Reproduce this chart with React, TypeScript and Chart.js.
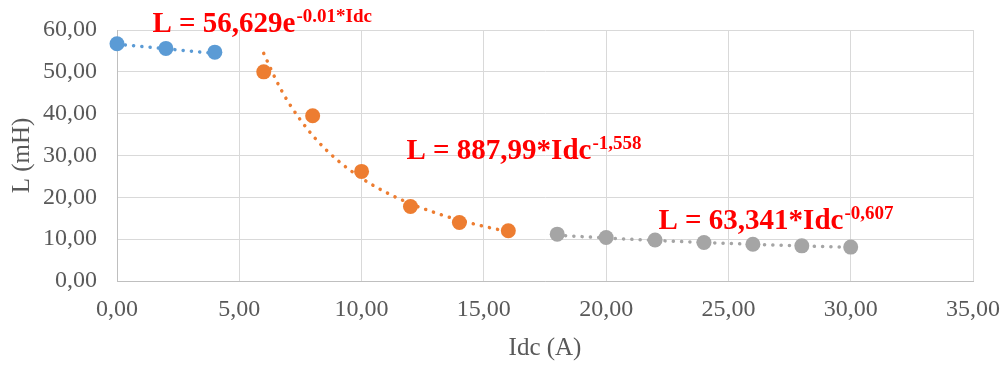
import React, { useEffect, useRef } from "react";
import { Chart, registerables } from "chart.js";

Chart.register(...registerables);

// Measured points (Idc in A, L in mH)
const blueX = [0, 2, 4];
const blueY = [56.7, 55.6, 54.7];
const orangeX = [6, 8, 10, 12, 14, 16];
const orangeY = [50.0, 39.5, 26.2, 17.8, 14.0, 12.0];
const grayX = [18, 20, 22, 24, 26, 28, 30];
const grayY = [11.2, 10.4, 9.8, 9.2, 8.8, 8.4, 8.1];

// Trend curves
const blueTrendX = [0, 1, 2, 3, 4];
const blueTrendY = [56.63, 56.07, 55.51, 54.96, 54.41];
const orangeTrendX = [6, 6.5, 7, 8, 9, 10, 11, 12, 13, 14, 15, 16];
const orangeTrendY = [54.4, 48.1, 42.8, 34.8, 28.95, 24.57, 21.18, 18.5, 16.33, 14.55, 13.06, 11.81];
const grayTrendX = [18, 20, 22, 24, 26, 28, 30];
const grayTrendY = [10.96, 10.28, 9.7, 9.2, 8.77, 8.38, 8.04];

// Axis ticks
const xTicks = [0, 5, 10, 15, 20, 25, 30, 35];
const yTicks = [0, 10, 20, 30, 40, 50, 60];

const xTitle = "Idc (A)";
const yTitle = "L (mH)";

const equations = [
  { main: "L = 56,629e", sup: "-0.01*Idc" },
  { main: "L = 887,99*Idc", sup: "-1,558" },
  { main: "L = 63,341*Idc", sup: "-0,607" },
];
const equationPos = [
  { x: 152.5, y: 31.5 },
  { x: 406.5, y: 158.5 },
  { x: 658.5, y: 228.5 },
];

const BLUE = "#5B9BD5";
const ORANGE = "#ED7D31";
const GRAY = "#A5A5A5";

const zip = (xs: number[], ys: number[]) => xs.map((x, i) => ({ x, y: ys[i] }));
const fmt = (v: number) => v.toFixed(2).replace(".", ",");

const equationPlugin = {
  id: "equations",
  afterDatasetsDraw(chart: any) {
    const ctx = chart.ctx;
    ctx.save();
    ctx.fillStyle = "#FF0000";
    ctx.textBaseline = "alphabetic";
    ctx.textAlign = "left";
    equations.forEach((eq, i) => {
      const p = equationPos[i];
      ctx.font = "bold 29px 'Liberation Serif', 'Times New Roman', serif";
      ctx.fillText(eq.main, p.x, p.y);
      const w = ctx.measureText(eq.main).width;
      ctx.font = "bold 19px 'Liberation Serif', 'Times New Roman', serif";
      ctx.fillText(eq.sup, p.x + w + 1, p.y - 10);
    });
    ctx.restore();
  },
};

export default function App() {
  const ref = useRef<HTMLCanvasElement | null>(null);

  useEffect(() => {
    if (!ref.current) return;
    const trend = (xs: number[], ys: number[], color: string) => ({
      type: "line" as const,
      data: zip(xs, ys),
      borderColor: color,
      borderWidth: 3.5,
      borderDash: [0.1, 8.2],
      borderCapStyle: "round" as const,
      pointRadius: 0,
      showLine: true,
      fill: false,
      clip: false,
      cubicInterpolationMode: "monotone" as const,
      order: 2,
    });
    const pts = (xs: number[], ys: number[], color: string) => ({
      type: "scatter" as const,
      data: zip(xs, ys),
      backgroundColor: color,
      borderColor: color,
      borderWidth: 0,
      pointRadius: 7.5,
      showLine: false,
      clip: false,
      order: 1,
    });
    const font = { family: "'Liberation Serif', 'Times New Roman', serif" };
    const chart = new Chart(ref.current, {
      type: "scatter",
      data: {
        datasets: [
          pts(blueX, blueY, BLUE),
          pts(orangeX, orangeY, ORANGE),
          pts(grayX, grayY, GRAY),
          trend(blueTrendX, blueTrendY, BLUE),
          trend(orangeTrendX, orangeTrendY, ORANGE),
          trend(grayTrendX, grayTrendY, GRAY),
        ] as any,
      },
      options: {
        animation: false,
        responsive: false,
        events: [],
        layout: { padding: { top: 30, right: 30, left: 0, bottom: 0 } },
        plugins: {
          legend: { display: false },
          tooltip: { enabled: false },
        },
        scales: {
          x: {
            type: "linear",
            min: 0,
            max: 35,
            afterBuildTicks: (s: any) => {
              s.ticks = xTicks.map((v) => ({ value: v }));
            },
            afterFit: (s: any) => {
              s.height = 84;
              s.paddingLeft = 0;
              s.paddingRight = 0;
            },
            ticks: {
              callback: (v: any) => fmt(Number(v)),
              color: "#595959",
              font: { ...font, size: 24 },
              padding: 14,
              maxRotation: 0,
            },
            grid: { color: "#D9D9D9", lineWidth: 1, drawTicks: false },
            border: { color: "#BFBFBF", width: 1 },
            title: {
              display: true,
              text: xTitle,
              color: "#595959",
              font: { ...font, size: 25 },
              padding: { top: 0, bottom: 2 },
            },
          },
          y: {
            type: "linear",
            min: 0,
            max: 60,
            afterBuildTicks: (s: any) => {
              s.ticks = yTicks.map((v) => ({ value: v }));
            },
            afterFit: (s: any) => {
              s.width = 117;
              s.paddingTop = 0;
              s.paddingBottom = 0;
            },
            ticks: {
              callback: (v: any) => fmt(Number(v)),
              color: "#595959",
              font: { ...font, size: 24 },
              padding: 20,
            },
            grid: { color: "#D9D9D9", lineWidth: 1, drawTicks: false },
            border: { color: "#BFBFBF", width: 1 },
            title: {
              display: true,
              text: yTitle,
              color: "#595959",
              font: { ...font, size: 25 },
              padding: { top: 7, bottom: 0 },
            },
          },
        },
      } as any,
      plugins: [equationPlugin],
    });
    return () => chart.destroy();
  }, []);

  return (
    <div style={{ position: "fixed", left: 0, top: 0, width: 1003, height: 365, background: "#fff" }}>
      <canvas ref={ref} width={1003} height={365} style={{ display: "block" }} />
    </div>
  );
}
